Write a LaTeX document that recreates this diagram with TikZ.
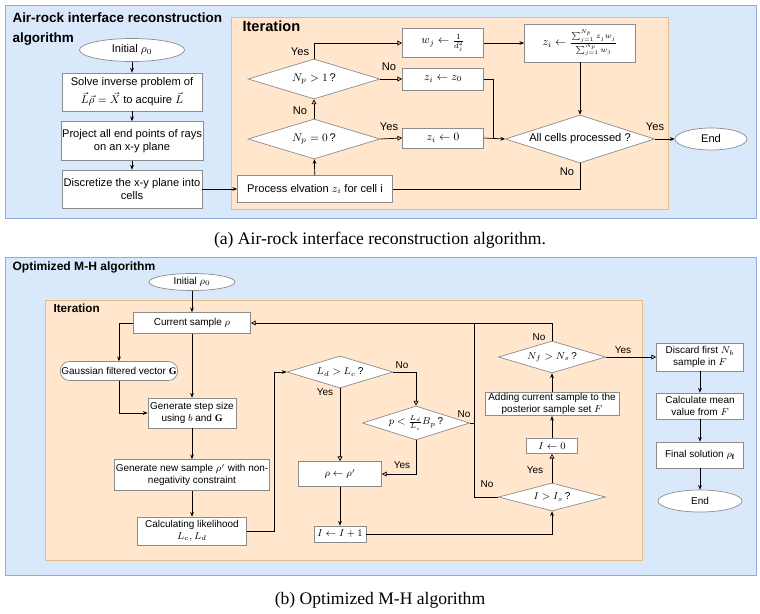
\documentclass[tikz,border=0pt]{standalone}
\usepackage{fix-cm}
\usepackage{amsmath, amssymb}
\usepackage{fontspec}
\setmainfont{Liberation Serif}
\setsansfont{Liberation Sans}
\usetikzlibrary{arrows.meta, positioning, shapes.geometric}

\definecolor{panelblue}{HTML}{DAE8FC}
\definecolor{panelline}{HTML}{8FAADC}
\definecolor{iterfill}{HTML}{FFE6CC}
\definecolor{iterline}{HTML}{E3BD82}

\begin{document}
\begin{tikzpicture}[
    x=0.03cm, y=-0.03cm,
    every node/.style={font=\sffamily},
    box/.style={rectangle, draw=black!45, fill=white, align=center, inner sep=1pt},
    dec/.style={diamond, draw=black!45, fill=white, inner sep=0pt, shape aspect=3.2},
    term/.style={ellipse, draw=black!45, fill=white, inner sep=0pt},
    pill/.style={rectangle, rounded corners=2.8mm, draw=black!45, fill=white, inner sep=1pt},
    lbl/.style={inner sep=0pt},
    panel/.style={draw=panelline, fill=panelblue},
    iter/.style={draw=iterline, fill=iterfill},
    >={Stealth[length=4pt,width=3.2pt]},
    oarr/.style={-{Triangle[open,length=4pt,width=4pt]}},
    line width=0.6pt
  ]
  \useasboundingbox (0,0) rectangle (760,613);

  % (a) air-rock interface
  \draw[panel] (5,5) rectangle (756,218);
  \draw[iter] (231,17) rectangle (668,209);
  \begin{scope}[every node/.append style={font=\sffamily\fontsize{9.5}{11}\selectfont}]
    \node[anchor=north west, align=left, inner sep=1pt, font=\sffamily\bfseries\fontsize{11.5}{17}\selectfont] (ttla) at (11,11) {Air-rock interface reconstruction\\algorithm};
    \node[anchor=north west, inner sep=1pt, font=\sffamily\bfseries\fontsize{12.5}{14}\selectfont] (itera) at (241,19) {Iteration};

    \node[term, minimum width=3.15cm, minimum height=0.69cm] (init1) at (132,50) {Initial $\rho_0$};
    \node[box, minimum width=4.2cm, minimum height=1.14cm] (solve) at (132,92) {Solve inverse problem of\\[3pt]$\vec{L}\vec{\rho}=\vec{X}$ to acquire $\vec{L}$};
    \node[box, minimum width=4.2cm, minimum height=1.17cm] (proj) at (132,141) {Project all end points of rays\\on an x-y plane};
    \node[box, minimum width=4.2cm, minimum height=1.14cm] (discr) at (132,189) {Discretize the x-y plane into\\cells};
    \node[box, minimum width=4.65cm, minimum height=0.81cm] (proc) at (315,189) {Process elvation $z_i$ for cell i};
    \node[dec, minimum width=3.96cm, minimum height=1.2cm] (np0) at (314,139) {$N_p=0\,$?};
    \node[dec, minimum width=3.96cm, minimum height=1.2cm] (np1) at (314,79) {$N_p>1\,$?};
    \node[box, minimum width=2.43cm, minimum height=0.87cm] (wj) at (443,43) {$w_j\leftarrow\frac{1}{d_j^2}$};
    \node[box, minimum width=2.43cm, minimum height=0.66cm] (zz0) at (443,79) {$z_i\leftarrow z_0$};
    \node[box, minimum width=2.43cm, minimum height=0.6cm] (zzero) at (443,138) {$z_i\leftarrow 0$};
    \node[box, minimum width=3.33cm, minimum height=1.14cm] (zsum) at (580,43) {$z_i\leftarrow\frac{\sum_{j=1}^{N_p} z_j w_j}{\sum_{j=1}^{N_p} w_j}$};
    \node[dec, minimum width=4.47cm, minimum height=1.44cm] (allc) at (580,139) {All cells processed ?};
    \node[term, minimum width=2.16cm, minimum height=0.66cm] (end1) at (711,139) {End};
    \coordinate (join1) at (493,139);

    \node[lbl] (ya) at (300,52) {Yes};
    \node[lbl] (nb) at (389,67) {No};
    \node[lbl] (nc) at (300,111) {No};
    \node[lbl] (yd) at (389,127) {Yes};
    \node[lbl] (ye) at (655,127) {Yes};
    \node[lbl] (nf) at (567,172) {No};

    \draw[->] (init1) -- (solve);
    \draw[->] (solve) -- (proj);
    \draw[->] (proj) -- (discr);
    \draw[->] (discr) -- (proc);
    \draw[->] (proc) -- (np0);
    \draw[oarr] (np0) -- (np1);
    \draw[oarr] (np1.north) |- (wj.west);
    \draw[oarr] (np1.east) -- (zz0.west);
    \draw[oarr] (np0.east) -- (zzero.west);
    \draw[->] (wj) -- (zsum);
    \draw (zz0.east) -| (join1);
    \draw[->] (zzero.east) -- (allc.west);
    \draw[->] (zsum) -- (allc);
    \draw[->] (allc) -- (end1);
    \draw (allc.south) |- (proc.east);
  \end{scope}

  \node[font=\fontsize{15}{17}\selectfont] (capa) at (380,240) {(a) Air-rock interface reconstruction algorithm.};

  % (b) optimized M-H
  \draw[panel] (5,257) rectangle (756,575);
  \draw[iter] (45,300) rectangle (642,560);
  \begin{scope}[every node/.append style={font=\sffamily\fontsize{8.5}{10}\selectfont}]
    \node[anchor=north west, inner sep=1pt, font=\sffamily\bfseries\fontsize{10.3}{12}\selectfont] (ttlb) at (11,260) {Optimized M-H algorithm};
    \node[anchor=north west, inner sep=1pt, font=\sffamily\bfseries\fontsize{10}{12}\selectfont] (iterb) at (52,302) {Iteration};

    \node[term, minimum width=2.58cm, minimum height=0.51cm] (init2) at (192,282) {Initial $\rho_0$};
    \node[box, minimum width=3.51cm, minimum height=0.63cm] (cur) at (192,323) {Current sample $\rho$};
    \node[pill, minimum width=3.51cm, minimum height=0.57cm] (gauss) at (119,371) {Gaussian filtered vector $\mathbf{G}$};
    \node[box, minimum width=2.64cm, minimum height=0.9cm] (stepb) at (192,413) {Generate step size\\using $b$ and $\mathbf{G}$};
    \node[box, minimum width=4.53cm, minimum height=0.93cm] (newb) at (192,475) {Generate new sample $\rho'$ with non-\\negativity constraint};
    \node[box, minimum width=3.27cm, minimum height=0.84cm] (calc) at (192,531) {Calculating likelihood\\$L_c, L_d$};
    \node[dec, minimum width=3.18cm, minimum height=0.96cm] (dld) at (340,372) {$L_d>L_c\,$?};
    \node[dec, minimum width=3.21cm, minimum height=1.02cm] (dp) at (416,423) {$p<\frac{L_d}{L_c}B_p\,$?};
    \node[box, minimum width=2.49cm, minimum height=0.75cm] (rhob) at (340,474) {$\rho\leftarrow\rho'$};
    \node[box, minimum width=1.56cm, minimum height=0.48cm] (inci) at (340,534) {$I\leftarrow I+1$};
    \node[dec, minimum width=3.21cm, minimum height=0.84cm] (di) at (552,497) {$I>I_s\,$?};
    \node[box, minimum width=1.53cm, minimum height=0.45cm] (zeroi) at (552,446) {$I\leftarrow 0$};
    \node[box, minimum width=4.02cm, minimum height=0.69cm] (addb) at (552,404) {Adding current sample to the\\posterior sample set $F$};
    \node[dec, minimum width=3.21cm, minimum height=0.96cm] (dnf) at (552,357) {$N_f>N_s\,$?};
    \node[box, minimum width=2.61cm, minimum height=0.84cm] (disc) at (700,357) {Discard first $N_b$\\sample in $F$};
    \node[box, minimum width=2.61cm, minimum height=0.78cm] (mean) at (700,406) {Calculate mean\\value from $F$};
    \node[box, minimum width=2.61cm, minimum height=0.78cm] (fin) at (700,455) {Final solution $\rho_{\mathbf{f}}$};
    \node[term, minimum width=2.52cm, minimum height=0.66cm] (end2) at (700,501) {End};
    \coordinate (loop) at (474,323);

    \node[lbl] (ng) at (402,365) {No};
    \node[lbl] (yh) at (325,392) {Yes};
    \node[lbl] (ni) at (464,414) {No};
    \node[lbl] (yj) at (402,465) {Yes};
    \node[lbl] (nk) at (487,484) {No};
    \node[lbl] (yl) at (535,470) {Yes};
    \node[lbl] (nm) at (539,337) {No};
    \node[lbl] (yn) at (623,350) {Yes};

    \draw[->] (init2) -- (cur);
    \draw[->] (cur.west) -| (gauss.north);
    \draw[->] (cur) -- (stepb);
    \draw[->] (gauss.south) |- (stepb.west);
    \draw[->] (stepb) -- (newb);
    \draw[->] (newb) -- (calc);
    \draw[->] (calc.east) -- ++(27,0) |- (dld.west);
    \draw[oarr] (dld.east) -| (dp.north);
    \draw[oarr] (dld) -- (rhob);
    \draw[oarr] (dp.south) |- (rhob.east);
    \draw[->] (rhob) -- (inci);
    \draw[->] (inci.east) -| (di.south);
    \draw[oarr] (di) -- (zeroi);
    \draw[->] (zeroi) -- (addb);
    \draw[->] (addb) -- (dnf);
    \draw[oarr] (dnf) -- (disc);
    \draw[->] (disc) -- (mean);
    \draw[->] (mean) -- (fin);
    \draw[->] (fin) -- (end2);
    \draw[oarr] (dnf.north) |- (cur.east);
    \draw (dp.east) -- (dp.east -| loop);
    \draw (di.west) -| (loop);
  \end{scope}

  \node[font=\fontsize{15}{17}\selectfont] (capb) at (380,600) {(b) Optimized M-H algorithm};
\end{tikzpicture}
\end{document}
